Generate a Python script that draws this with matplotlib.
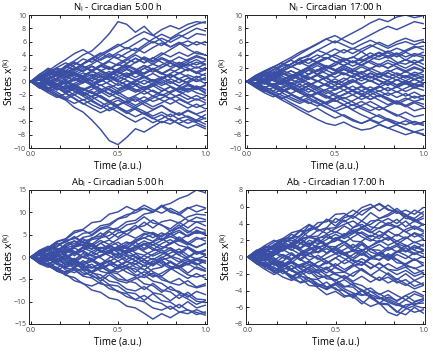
import numpy as np
import matplotlib
matplotlib.use("Agg")
import matplotlib.pyplot as plt

# time grid of the sampled trajectories
time = [0.0, 0.05, 0.1, 0.15, 0.2, 0.25, 0.3, 0.35, 0.4, 0.45, 0.5,
        0.55, 0.6, 0.65, 0.7, 0.75, 0.8, 0.85, 0.9, 0.95, 1.0]

# N_i - Circadian 5:00 h
n_05 = [
    [0, 0.8, 1.5, 1.2, 2.4, 3.1, 4.0, 4.6, 5.8, 7.2, 9.0, 8.6, 7.4, 8.3, 7.0, 6.1, 5.2, 5.8, 4.9, 4.2, 4.0],
    [0, -0.6, -1.4, -2.2, -2.8, -3.9, -4.6, -5.8, -7.2, -8.9, -9.5, -8.4, -7.1, -7.6, -6.8, -6.0, -6.4, -5.6, -5.2, -5.8, -5.0],
    [0, 0.5, 1.1, 2.0, 1.6, 2.5, 3.4, 2.9, 3.8, 4.6, 5.3, 6.0, 6.8, 7.5, 6.9, 7.8, 8.4, 7.9, 8.6, 9.0, 8.8],
    [0, 0.9, 0.4, 1.3, 2.2, 1.8, 2.7, 3.5, 4.3, 3.6, 4.4, 5.1, 4.6, 5.5, 6.4, 7.1, 6.5, 7.3, 8.0, 8.6, 9.0],
    [0, -0.4, 0.3, 0.9, 0.2, 1.0, 0.6, 1.5, 2.3, 1.8, 2.6, 2.0, 2.9, 3.7, 3.1, 4.0, 4.8, 5.6, 6.1, 5.5, 6.0],
    [0, 0.7, 1.6, 2.5, 3.3, 4.2, 4.8, 4.0, 3.2, 3.9, 3.4, 2.7, 3.5, 2.8, 3.6, 2.9, 2.2, 2.9, 2.3, 2.9, 2.5],
    [0, -0.8, -1.5, -0.9, -1.8, -2.6, -3.4, -2.8, -3.6, -4.4, -3.8, -4.6, -5.3, -4.7, -5.5, -6.2, -5.6, -6.4, -7.0, -6.5, -7.1],
    [0, 0.3, -0.5, -1.2, -0.6, -1.4, -2.1, -1.5, -2.3, -3.0, -2.4, -3.2, -2.6, -3.5, -4.2, -3.6, -4.5, -5.1, -4.4, -5.0, -5.6],
    [0, -0.5, 0.2, -0.4, 0.5, 1.2, 0.7, 1.5, 0.9, 0.3, 1.1, 1.8, 1.2, 2.0, 2.6, 2.1, 2.8, 2.3, 3.0, 2.5, 3.1],
    [0, 0.6, 0.1, -0.6, 0.0, -0.7, -1.3, -0.8, -1.6, -1.0, -0.3, -1.0, -1.6, -1.1, -0.4, 0.3, -0.3, 0.4, 1.0, 0.5, 1.2],
    [0, -0.9, -1.7, -2.4, -1.8, -1.1, -1.9, -2.7, -2.1, -2.9, -3.6, -3.0, -2.3, -3.1, -3.8, -3.2, -2.5, -3.3, -4.0, -3.4, -4.1],
    [0, 1.1, 1.8, 1.2, 2.0, 2.8, 2.2, 1.5, 2.3, 3.0, 2.4, 3.2, 4.0, 3.3, 2.6, 3.4, 2.8, 2.1, 2.7, 3.3, 2.6],
    [0, -0.3, 0.4, 1.0, 1.7, 1.1, 0.4, -0.3, 0.3, -0.4, -1.1, -0.5, -1.2, -1.9, -1.3, -2.0, -2.6, -2.0, -2.7, -2.1, -2.8],
    [0, 0.4, 1.0, 0.3, -0.4, 0.2, 0.9, 1.6, 2.4, 3.2, 4.1, 3.5, 4.3, 5.2, 6.0, 5.4, 6.3, 7.0, 6.4, 7.2, 7.0],
    [0, -0.6, -1.1, -1.9, -2.6, -3.3, -2.7, -3.5, -4.1, -3.4, -2.8, -3.5, -4.2, -4.9, -5.6, -5.0, -5.8, -6.3, -5.7, -6.2, -6.8],
    [0, 0.2, -0.4, 0.3, -0.3, 0.4, -0.2, 0.5, 0.0, 0.6, 0.1, -0.5, 0.2, -0.4, 0.3, -0.3, 0.4, -0.2, 0.5, 0.0, 0.4],
    [0, 0.8, 1.4, 2.1, 2.8, 2.2, 1.6, 2.3, 1.6, 0.9, 1.5, 0.8, 0.2, 0.8, 0.1, -0.6, 0.0, -0.7, -1.3, -0.7, -1.2],
    [0, -0.7, -0.2, -0.9, -1.5, -0.8, -0.2, 0.5, 1.2, 0.6, -0.1, 0.6, 1.3, 2.0, 1.4, 2.1, 2.8, 2.2, 1.6, 2.2, 1.7],
    [0, 0.5, -0.2, -0.9, -1.7, -2.5, -3.3, -4.0, -4.7, -4.1, -3.5, -2.9, -3.6, -2.9, -2.2, -2.8, -3.4, -2.7, -3.3, -3.9, -3.4],
    [0, -0.4, -1.0, -0.4, 0.2, -0.5, -1.1, -1.8, -1.2, -1.9, -1.3, -0.7, -1.4, -0.8, -1.5, -2.1, -1.5, -0.9, -1.6, -1.0, -1.6],
    [0, 1.0, 2.0, 1.4, 0.7, 1.3, 2.0, 2.6, 3.4, 4.2, 3.5, 4.3, 5.0, 4.3, 5.1, 5.8, 5.2, 5.9, 5.3, 6.0, 5.5],
    [0, -1.0, -0.4, 0.3, -0.4, -1.1, -1.8, -1.2, -0.5, -1.3, -2.0, -2.7, -2.1, -1.4, -2.2, -1.5, -0.8, -1.5, -2.2, -2.8, -2.3],
    [0, 0.3, 0.9, 1.5, 0.8, 0.1, 0.7, 0.0, -0.6, 0.0, 0.7, 1.3, 0.6, 1.3, 2.0, 1.3, 0.6, 1.2, 1.9, 1.2, 1.8],
    [0, -0.2, -0.9, -1.6, -2.4, -1.7, -1.0, -1.7, -2.4, -3.2, -4.0, -4.8, -4.1, -4.9, -4.3, -3.6, -4.4, -5.0, -4.3, -4.9, -4.4],
    [0, 0.6, 1.2, 1.9, 1.2, 1.9, 2.7, 3.5, 2.8, 2.1, 1.4, 2.0, 1.3, 0.6, 1.2, 0.5, 1.1, 0.4, -0.2, 0.4, -0.3],
    [0, -0.5, -1.2, -0.6, -1.3, -2.0, -1.4, -0.7, 0.0, 0.7, 0.1, -0.6, 0.0, 0.6, -0.1, 0.5, 1.2, 1.9, 2.6, 2.0, 2.6],
    [0, 0.9, 0.3, 1.0, 1.6, 1.0, 0.3, -0.4, -1.1, -1.8, -2.5, -3.2, -3.9, -4.5, -5.2, -4.6, -5.3, -4.7, -5.4, -6.0, -5.5],
    [0, -0.3, 0.3, -0.3, -1.0, -0.3, 0.4, 1.1, 0.5, 1.2, 1.9, 2.7, 3.5, 2.8, 3.5, 4.3, 3.7, 4.4, 3.8, 4.5, 4.0],
    [0, 0.2, -0.5, -1.3, -0.7, -1.5, -2.2, -3.0, -3.7, -3.1, -3.8, -4.5, -3.9, -3.2, -2.5, -1.9, -2.6, -2.0, -1.3, -0.7, -1.3],
    [0, -0.8, -0.2, 0.5, 1.3, 2.1, 1.5, 2.3, 1.7, 1.0, 1.8, 2.5, 1.9, 1.2, 1.9, 1.2, 0.6, 1.3, 0.7, 0.0, 0.6],
    [0, 0.4, 0.9, 0.3, 1.1, 1.8, 2.6, 3.3, 4.1, 4.8, 5.6, 4.9, 5.7, 6.5, 5.8, 6.5, 5.9, 6.6, 7.3, 8.0, 7.6],
    [0, -0.6, 0.0, -0.7, -0.1, -0.8, -1.6, -2.3, -3.1, -3.9, -4.6, -5.4, -6.1, -5.4, -6.2, -5.6, -4.9, -5.7, -6.3, -5.8, -6.4],
    [0, 0.6, 1.3, 0.8, 1.5, 0.9, 1.7, 2.3, 1.6, 2.2, 1.5, 0.9, 1.6, 2.4, 1.8, 1.1, 1.8, 1.2, 1.9, 1.3, 0.9],
    [0, -0.5, -1.1, -0.4, -1.2, -0.6, 0.1, -0.6, -1.3, -0.7, -1.5, -0.9, -0.2, -0.9, -0.3, -1.0, -1.7, -1.1, -0.4, -1.1, -0.5],
    [0, 0.3, 0.9, 1.6, 2.2, 2.9, 2.3, 1.6, 0.9, 1.5, 0.8, 0.2, -0.5, 0.2, -0.4, 0.3, 1.0, 0.3, -0.3, -0.9, -1.8],
    [0, -0.9, -1.4, -2.1, -2.7, -2.0, -2.8, -2.2, -1.5, -2.3, -1.6, -2.4, -3.0, -2.3, -3.0, -2.5, -1.8, -2.5, -3.2, -2.6, -3.2],
    [0, 0.5, -0.2, 0.5, 1.2, 0.6, 1.3, 0.8, 0.1, 0.8, 1.4, 0.7, 1.5, 0.8, 0.1, 0.7, 0.0, -0.7, 0.0, 0.8, 0.2],
    [0, -0.3, 0.5, 1.1, 0.6, 1.4, 0.8, 0.1, 0.8, 0.2, -0.6, 0.1, -0.5, -1.3, -0.6, -1.4, -0.8, -1.6, -1.0, -1.7, -2.1],
    [0, 0.8, 0.2, -0.4, -1.1, -0.5, -1.2, -0.6, 0.2, 0.9, 0.3, 1.0, 1.6, 1.1, 1.8, 2.5, 3.1, 2.6, 3.3, 3.9, 3.4],
    [0, -0.7, -0.1, -0.8, -0.2, 0.6, 0.0, 0.8, 1.5, 0.9, 1.6, 2.3, 1.7, 2.4, 1.8, 1.2, 1.9, 2.6, 2.0, 1.4, 2.1],
    [0, 0.4, -0.3, -1.0, -1.6, -1.0, -1.7, -2.3, -1.7, -1.1, -1.8, -1.2, -0.6, -1.3, -0.7, 0.0, -0.7, -1.3, -0.6, -1.2, -0.6],
    [0, -0.2, 0.6, 0.0, 0.8, 1.6, 2.3, 1.7, 2.5, 1.9, 2.7, 3.4, 2.8, 3.5, 2.9, 3.6, 3.0, 3.7, 3.1, 3.7, 3.3],
]

# N_i - Circadian 17:00 h
n_17 = [
    [0, 0.6, 1.3, 2.1, 2.9, 3.6, 4.4, 5.0, 5.7, 6.4, 5.8, 6.6, 7.3, 8.0, 8.8, 9.4, 9.0, 9.7, 10.0, 9.6, 9.9],
    [0, 0.4, 1.0, 1.7, 2.5, 3.3, 4.1, 4.9, 5.6, 6.4, 6.9, 6.2, 5.6, 6.3, 7.0, 7.7, 8.3, 7.8, 8.4, 9.0, 8.7],
    [0, -0.7, -1.4, -2.0, -2.8, -3.5, -4.3, -5.0, -5.7, -6.3, -6.6, -6.1, -6.8, -7.3, -7.1, -6.5, -7.0, -7.5, -8.0, -7.6, -8.0],
    [0, -0.5, -1.1, -1.8, -2.4, -3.2, -3.9, -4.6, -4.0, -4.8, -5.5, -5.0, -5.7, -6.3, -5.8, -6.4, -7.0, -6.5, -7.1, -7.6, -7.2],
    [0, 0.8, 0.3, 1.1, 1.9, 2.6, 3.3, 2.7, 3.5, 4.2, 4.9, 4.3, 5.0, 4.5, 5.2, 5.9, 5.3, 6.0, 6.5, 6.0, 6.3],
    [0, -0.3, -0.9, -0.4, -1.1, -1.8, -1.2, -2.0, -2.7, -3.4, -4.1, -3.5, -4.3, -5.0, -5.6, -5.0, -5.7, -6.4, -5.9, -6.5, -6.1],
    [0, 0.5, -0.1, 0.6, 1.2, 0.6, 1.3, 2.0, 2.7, 2.1, 2.8, 3.5, 2.9, 3.6, 4.3, 3.7, 4.4, 5.0, 4.5, 5.1, 5.3],
    [0, -0.6, 0.0, -0.7, -1.4, -0.8, -1.5, -2.2, -1.6, -2.3, -3.0, -2.4, -3.1, -3.8, -4.4, -3.8, -4.5, -5.2, -4.6, -5.3, -5.0],
    [0, 0.3, 0.9, 0.3, 1.0, 1.6, 1.0, 1.7, 2.4, 1.8, 2.5, 3.1, 3.7, 3.1, 3.8, 4.4, 3.8, 4.3, 3.7, 4.2, 3.9],
    [0, -0.4, 0.2, -0.5, 0.1, -0.6, 0.0, 0.7, 0.1, -0.6, 0.0, -0.7, -0.1, 0.6, 0.0, 0.7, 0.1, -0.5, 0.1, -0.4, 0.2],
    [0, 0.7, 1.4, 0.8, 1.5, 2.2, 2.9, 2.3, 3.0, 3.6, 3.0, 2.4, 3.1, 2.5, 1.9, 2.6, 2.0, 2.7, 3.3, 2.8, 3.2],
    [0, -0.8, -1.5, -0.9, -1.6, -1.0, -0.4, -1.1, -1.8, -1.2, -1.9, -2.6, -2.0, -2.7, -2.1, -2.8, -3.5, -2.9, -3.6, -3.0, -3.4],
    [0, 0.2, 0.8, 1.4, 0.8, 0.2, 0.9, 0.3, 1.0, 1.7, 1.1, 1.8, 1.2, 0.6, 1.3, 0.7, 1.4, 2.0, 1.4, 2.0, 1.6],
    [0, -0.2, -0.8, -1.4, -0.8, -0.2, -0.9, -1.6, -1.0, -0.4, -1.1, -0.5, 0.1, -0.6, -1.3, -0.7, -1.4, -0.8, -1.5, -0.9, -1.3],
    [0, 0.9, 1.6, 2.2, 1.6, 2.3, 1.7, 1.1, 1.8, 1.2, 0.6, 1.3, 0.7, 0.1, 0.8, 0.2, -0.4, 0.3, -0.3, 0.3, -0.2],
    [0, -0.9, -1.7, -2.3, -1.7, -2.4, -3.0, -2.4, -1.8, -2.5, -1.9, -1.3, -2.0, -1.4, -0.8, -1.5, -0.9, -1.6, -1.0, -0.4, -0.8],
    [0, 0.5, 1.1, 1.8, 2.5, 3.2, 2.6, 3.3, 4.0, 3.4, 4.1, 4.8, 4.2, 4.9, 5.5, 4.9, 4.3, 3.7, 4.4, 3.8, 4.4],
    [0, -0.5, -1.2, -1.9, -2.6, -2.0, -2.7, -3.3, -2.7, -3.4, -2.8, -3.5, -4.2, -3.6, -3.0, -3.7, -4.4, -5.0, -5.6, -6.2, -6.6],
    [0, 0.4, -0.2, -0.8, -0.2, 0.5, 1.2, 0.6, 0.0, 0.7, 1.4, 2.1, 1.5, 2.2, 1.6, 1.0, 1.7, 1.1, 0.5, 1.1, 0.6],
    [0, -0.4, 0.3, 1.0, 1.7, 1.1, 0.5, -0.2, -0.8, -1.5, -2.2, -2.9, -3.6, -3.0, -3.7, -4.3, -3.7, -3.1, -3.8, -3.2, -3.8],
    [0, 0.6, 0.0, -0.6, 0.1, 0.8, 1.5, 2.2, 2.9, 3.6, 3.0, 2.4, 1.8, 2.5, 3.2, 3.9, 4.6, 4.0, 4.7, 5.3, 4.8],
    [0, -0.6, -0.1, 0.5, -0.1, -0.7, -1.3, -0.7, -1.4, -2.1, -2.8, -3.5, -2.9, -2.2, -1.6, -2.3, -1.7, -2.4, -1.8, -2.5, -2.1],
    [0, 0.3, -0.3, 0.3, -0.4, -1.0, -1.7, -2.4, -3.1, -3.8, -4.5, -5.2, -5.9, -6.3, -5.7, -6.2, -5.6, -6.1, -6.5, -6.0, -6.4],
    [0, -0.2, 0.4, 1.0, 1.6, 2.2, 2.8, 3.4, 2.8, 3.4, 4.0, 3.4, 2.8, 3.4, 2.8, 2.2, 2.8, 2.2, 1.6, 2.2, 1.7],
    [0, 0.8, 1.5, 0.9, 0.3, -0.3, 0.4, 1.1, 1.7, 2.4, 1.8, 1.2, 0.6, 1.3, 2.0, 1.4, 0.8, 0.2, 0.9, 0.3, 0.8],
    [0, -0.7, -0.1, -0.7, -1.3, -1.9, -2.5, -3.1, -3.7, -3.1, -2.5, -1.9, -1.3, -0.7, -1.3, -1.9, -2.5, -3.1, -2.5, -3.0, -2.6],
    [0, 0.4, 1.1, 1.4, 2.3, 2.6, 3.5, 3.8, 4.7, 4.2, 3.6, 3.0, 2.3, 2.9, 3.6, 4.3, 3.5, 4.1, 3.2, 4.0, 3.6],
    [0, -0.3, -0.9, -1.5, -2.1, -2.7, -3.3, -2.7, -3.3, -3.9, -4.5, -4.0, -3.5, -4.1, -4.7, -5.3, -5.9, -6.5, -7.1, -7.6, -7.9],
    [0, 0.2, 0.8, 0.1, -0.5, 0.3, -0.3, 0.4, 0.9, 0.1, -0.6, 0.1, 0.9, 1.5, 0.7, 0.1, -0.6, 0.3, -0.4, 0.4, -0.3],
    [0, -0.5, 0.2, 0.6, 1.4, 0.8, 1.5, 2.0, 1.1, 2.1, 2.4, 3.3, 3.6, 4.5, 3.6, 3.3, 3.8, 2.9, 2.6, 3.2, 2.6],
    [0, 0.5, -0.2, -0.6, -1.4, -0.8, -1.5, -0.6, 0.0, 0.6, -0.2, -0.6, -1.5, -1.8, -2.7, -2.0, -2.6, -3.3, -3.6, -4.4, -4.0],
    [0, -0.2, 0.5, 1.2, 1.9, 2.6, 3.3, 4.0, 4.7, 5.4, 6.1, 5.5, 4.9, 5.6, 6.2, 5.6, 5.0, 5.6, 6.0, 5.5, 6.0],
    [0, 0.5, 1.1, 0.6, 1.3, 0.7, 1.4, 2.1, 1.5, 2.2, 1.6, 1.0, 1.7, 1.1, 0.5, 1.2, 0.6, 1.3, 0.7, 1.4, 1.0],
    [0, -0.4, -1.0, -0.3, -1.0, -0.5, -1.2, -0.6, 0.1, -0.6, -1.3, -0.7, -1.4, -0.8, -1.5, -0.9, -0.2, -0.9, -0.3, -1.0, -0.4],
    [0, 0.7, 0.2, -0.5, 0.2, 0.9, 0.3, 1.0, 1.7, 2.3, 1.7, 2.4, 3.0, 2.4, 3.1, 2.5, 3.2, 2.6, 2.0, 2.7, 2.1],
    [0, -0.8, -0.2, -0.9, -1.6, -1.0, -1.7, -1.1, -1.8, -1.2, -0.6, -1.3, -0.7, -1.4, -2.0, -1.4, -2.1, -1.5, -2.2, -1.6, -2.3],
    [0, 0.3, -0.4, 0.3, 1.0, 1.6, 1.0, 0.4, 1.1, 0.5, -0.2, 0.5, -0.1, 0.6, 1.2, 0.6, 1.3, 0.7, 0.1, 0.8, 0.3],
    [0, -0.3, 0.4, 1.1, 0.5, -0.2, -0.8, -0.2, -0.9, -0.3, 0.4, -0.3, 0.3, -0.4, 0.2, -0.5, 0.1, -0.6, 0.0, -0.7, -0.3],
    [0, 0.9, 1.5, 2.2, 2.8, 2.2, 2.9, 3.5, 2.9, 2.3, 1.7, 2.4, 1.8, 1.2, 1.9, 2.6, 2.0, 2.7, 3.3, 2.7, 3.4],
    [0, -0.5, -1.2, -1.8, -1.2, -1.9, -2.5, -1.9, -2.6, -3.2, -2.6, -2.0, -1.4, -2.1, -2.7, -2.1, -2.8, -3.4, -2.8, -2.2, -2.7],
    [0, 0.2, 0.9, 0.3, -0.3, 0.4, 1.1, 1.7, 1.1, 0.5, 1.2, 1.9, 1.3, 0.7, 0.1, -0.5, 0.2, 0.8, 1.5, 0.9, 1.5],
    [0, -0.6, 0.0, 0.7, 0.1, -0.6, 0.1, -0.5, -1.1, -1.8, -1.2, -0.6, -1.3, -1.9, -1.3, -0.7, -1.4, -0.8, -0.2, -0.9, -0.5],
]

# Ab_i - Circadian 5:00 h
ab_05 = [
    [0, 0.9, 2.0, 2.4, 3.7, 4.1, 5.3, 5.6, 7.0, 7.4, 8.6, 9.5, 9.9, 10.9, 10.2, 11.4, 12.0, 13.1, 13.8, 15.0, 14.4],
    [0, 1.4, 2.1, 3.5, 4.1, 5.8, 6.2, 7.7, 8.0, 9.6, 10.1, 11.3, 10.4, 11.6, 10.6, 9.8, 10.9, 9.9, 11.1, 10.1, 10.8],
    [0, -1.2, -1.7, -3.2, -3.8, -5.3, -5.9, -7.4, -7.9, -9.2, -9.6, -11.0, -11.4, -12.6, -13.9, -12.7, -13.6, -12.4, -11.8, -12.9, -12.3],
    [0, -0.7, -2.0, -2.6, -4.1, -4.6, -6.0, -6.5, -5.6, -7.1, -7.6, -8.9, -9.5, -8.6, -9.9, -10.4, -11.7, -10.6, -11.9, -12.4, -13.0],
    [0, 1.3, 0.4, 1.8, 2.2, 3.6, 2.5, 3.9, 4.3, 5.7, 4.4, 5.9, 6.3, 7.8, 6.5, 7.9, 8.3, 7.6, 9.0, 9.6, 9.4],
    [0, -1.4, -0.4, -1.7, -2.2, -1.2, -2.8, -3.3, -4.8, -3.4, -4.9, -5.3, -4.5, -6.0, -6.4, -7.9, -6.6, -8.1, -8.5, -9.9, -10.2],
    [0, 0.8, 1.9, 0.6, 2.0, 2.6, 4.1, 2.8, 4.3, 4.8, 6.2, 5.0, 6.5, 7.0, 8.3, 7.1, 6.3, 7.8, 6.5, 7.9, 7.0],
    [0, -0.5, 0.6, -0.7, -1.2, -0.3, -1.9, -2.4, -1.4, -2.9, -3.4, -2.5, -4.0, -4.6, -3.6, -5.1, -5.7, -4.8, -6.3, -6.9, -6.4],
    [0, 0.6, -0.6, 0.5, 1.6, 0.3, 1.5, 2.5, 1.1, 2.4, 3.3, 2.0, 3.4, 4.3, 5.1, 3.8, 5.1, 6.0, 4.6, 6.0, 5.2],
    [0, -0.7, 0.6, 1.7, 0.3, -0.6, 0.8, -0.5, -1.6, -0.2, 0.8, -0.6, 0.7, -0.6, -1.7, -0.2, 0.9, 1.8, 0.4, -0.5, 0.3],
    [0, 1.5, 2.4, 1.3, 2.9, 3.6, 2.5, 1.7, 3.1, 3.8, 2.6, 1.8, 3.3, 1.9, 3.4, 4.2, 2.9, 4.5, 3.1, 2.2, 3.0],
    [0, -1.5, -2.3, -1.2, -2.9, -3.5, -2.4, -1.6, -3.2, -3.7, -2.5, -1.9, -3.4, -1.8, -3.3, -4.3, -2.8, -2.0, -3.6, -2.2, -3.0],
    [0, 1.0, 1.5, 2.9, 3.3, 4.6, 3.3, 2.8, 1.4, 1.0, 2.0, 0.5, 0.1, -1.3, -1.7, -0.7, -2.2, -2.6, -4.0, -4.5, -4.0],
    [0, -1.0, -1.5, -2.9, -3.3, -2.4, -1.3, -1.0, 0.4, 0.8, 2.2, 2.5, 3.9, 4.3, 3.5, 4.9, 5.3, 6.7, 5.4, 6.7, 6.0],
    [0, 0.5, 1.6, 2.0, 1.0, 2.4, 2.9, 4.3, 4.7, 6.1, 6.5, 7.9, 8.2, 9.6, 10.0, 11.3, 10.0, 9.6, 8.2, 7.8, 8.0],
    [0, -0.6, -1.1, -2.5, -1.1, -2.6, -3.0, -4.4, -4.8, -6.2, -6.5, -7.9, -8.2, -9.7, -8.2, -9.8, -10.1, -11.4, -10.0, -11.4, -10.8],
    [0, 1.1, -0.3, -0.7, 0.3, 0.7, 2.1, 2.5, 1.5, 1.1, -0.3, 1.1, 1.5, 2.9, 3.3, 2.3, 1.9, 0.5, 2.0, 0.6, 1.4],
    [0, -1.1, 0.3, 0.7, -0.3, -0.7, -2.1, -2.5, -1.5, -1.1, 0.3, -1.1, -1.5, -2.9, -1.5, -1.1, -2.1, -2.5, -1.5, -0.7, -1.4],
    [0, 0.5, 1.8, 2.3, 3.7, 2.3, 3.6, 4.0, 5.4, 4.0, 5.4, 5.8, 7.1, 5.7, 5.3, 3.9, 5.2, 4.0, 3.2, 4.4, 3.6],
    [0, -0.5, -1.9, -2.3, -3.6, -2.3, -3.6, -4.0, -5.4, -4.0, -5.3, -5.8, -4.9, -4.1, -5.4, -5.9, -7.3, -7.7, -9.0, -7.7, -8.4],
    [0, 1.3, 1.8, 3.2, 1.8, 1.3, -0.1, -0.6, -2.0, -0.7, -2.1, -2.6, -1.6, -0.6, -2.0, -0.6, -0.1, 1.2, -0.2, 1.1, 0.4],
    [0, -1.3, -1.8, -3.1, -1.8, -1.3, 0.1, 0.6, 2.0, 2.5, 1.6, 3.0, 3.5, 5.0, 5.5, 4.5, 5.9, 6.5, 7.9, 8.9, 8.4],
    [0, 0.4, 1.4, 0.1, -0.4, -1.8, -2.2, -3.6, -4.0, -5.4, -5.8, -7.2, -7.6, -6.6, -8.0, -8.4, -9.8, -8.4, -9.4, -10.6, -9.8],
    [0, -0.4, 0.8, 1.2, 2.6, 3.0, 4.4, 4.8, 6.2, 6.6, 5.8, 7.2, 7.6, 9.0, 7.6, 7.2, 5.8, 7.2, 5.8, 5.3, 5.6],
    [0, 0.9, -0.4, 0.6, -0.6, 1.0, 1.4, 0.3, -0.2, -1.5, -1.9, -0.9, -2.3, -2.8, -4.1, -4.5, -5.8, -6.3, -5.3, -6.7, -6.0],
    [0, -0.9, 0.4, -0.6, 0.6, -1.0, -1.4, -0.3, 0.2, 1.5, 1.9, 0.9, 2.3, 2.8, 1.6, 3.0, 3.9, 2.6, 2.1, 0.9, 1.6],
    [0, 1.2, 2.0, 3.4, 3.9, 5.4, 6.0, 5.0, 6.5, 7.0, 8.5, 9.0, 10.5, 10.9, 10.0, 11.6, 10.4, 9.4, 10.9, 11.6, 11.0],
    [0, -1.2, -1.8, -0.8, 0.2, -1.3, -1.8, -3.3, -2.2, -3.3, -3.8, -5.3, -5.8, -7.3, -5.9, -7.4, -7.8, -9.3, -7.9, -9.4, -9.6],
    [0, 0.3, -0.9, 0.3, 0.8, 2.2, 2.7, 1.8, 3.1, 1.8, 1.3, 2.3, 0.9, 0.4, 1.4, 1.9, 3.2, 3.6, 2.7, 4.0, 4.3],
    [0, -0.3, 0.9, -0.3, -0.8, -2.2, -0.8, -2.3, -2.7, -1.8, -0.9, -2.3, -2.7, -4.1, -2.7, -2.3, -0.9, -2.3, -1.0, -0.3, -0.8],
    [0, 0.7, -0.6, -1.0, -2.5, -2.9, -4.3, -4.7, -6.0, -6.4, -7.8, -8.2, -9.6, -10.0, -11.4, -11.9, -11.0, -12.3, -12.7, -11.8, -12.6],
    [0, -0.7, 0.6, 1.0, 2.4, 0.9, 2.3, 2.7, 1.4, 0.9, 0.4, 1.5, 0.1, -0.5, 0.6, 1.6, 0.2, -0.4, -1.8, -0.4, -1.1],
    [0, 0.8, 1.7, 0.6, 1.8, 0.9, 2.2, 3.0, 1.8, 2.7, 1.6, 0.8, 1.9, 3.1, 2.0, 0.9, 2.1, 1.0, 2.3, 1.2, 0.7],
    [0, -0.8, -1.6, -0.5, -1.8, -0.8, 0.2, -0.9, -2.0, -0.9, -2.2, -1.1, -0.1, -1.3, -0.3, -1.5, -2.6, -1.4, -0.5, -1.7, -0.8],
    [0, 0.4, 1.5, 2.4, 3.5, 4.3, 3.3, 2.3, 1.2, 2.2, 1.0, 0.2, -0.9, 0.3, -0.6, 0.5, 1.6, 0.4, -0.5, -1.4, -2.6],
    [0, -1.2, -2.0, -3.1, -3.9, -2.8, -4.1, -3.2, -2.0, -3.3, -2.2, -3.4, -4.3, -3.3, -4.5, -3.6, -2.5, -3.7, -4.8, -3.7, -4.7],
    [0, 0.7, -0.3, 0.7, 1.8, 0.8, 2.0, 1.2, 0.1, 1.2, 2.2, 1.1, 2.3, 1.2, 0.2, 1.1, 0.0, -1.1, 0.0, 1.2, 0.4],
    [0, -0.4, 0.8, 1.6, 0.8, 2.0, 1.1, 0.2, 1.2, 0.3, -0.9, 0.2, -0.8, -2.0, -0.9, -2.1, -1.2, -2.4, -1.5, -2.6, -3.2],
    [0, 1.1, 0.3, -0.6, -1.6, -0.7, -1.8, -0.9, 0.3, 1.3, 0.4, 1.5, 2.4, 1.6, 2.7, 3.7, 4.6, 3.8, 4.9, 5.8, 5.1],
    [0, -1.0, -0.1, -1.2, -0.3, 0.9, 0.0, 1.2, 2.2, 1.3, 2.4, 3.4, 2.5, 3.6, 2.7, 1.8, 2.9, 3.9, 3.0, 2.1, 3.1],
    [0, 0.6, -0.4, -1.5, -2.4, -1.5, -2.6, -3.5, -2.5, -1.6, -2.7, -1.8, -0.9, -2.0, -1.1, 0.0, -1.1, -2.0, -0.9, -1.8, -0.9],
    [0, -0.3, 0.9, 0.0, 1.2, 2.4, 3.4, 2.5, 3.7, 2.8, 4.0, 5.1, 4.2, 5.3, 4.3, 5.4, 4.5, 5.6, 4.6, 5.6, 5.0],
]

# Ab_i - Circadian 17:00 h
ab_17 = [
    [0, 0.5, 1.3, 1.0, 1.9, 2.7, 2.2, 3.1, 3.6, 4.5, 4.1, 4.9, 5.6, 5.0, 5.8, 6.4, 5.7, 5.2, 5.6, 5.1, 5.9],
    [0, 0.8, 0.4, 1.5, 2.1, 1.7, 2.6, 3.8, 3.1, 3.5, 4.6, 4.2, 4.9, 4.3, 5.3, 4.6, 5.1, 5.8, 5.0, 4.6, 5.4],
    [0, -0.3, -1.1, -0.8, -1.7, -2.2, -3.1, -2.8, -3.7, -4.5, -4.1, -4.8, -4.4, -5.3, -5.9, -5.5, -6.6, -7.0, -6.2, -5.8, -6.1],
    [0, -0.7, -1.0, -1.9, -1.5, -2.6, -3.0, -2.5, -3.4, -3.9, -3.3, -4.1, -4.6, -4.0, -4.9, -5.5, -4.8, -5.2, -4.6, -5.3, -5.0],
    [0, 0.2, 0.9, 0.5, 1.2, 1.6, 1.1, 2.0, 1.6, 2.5, 3.0, 2.6, 3.5, 3.9, 3.2, 4.1, 4.6, 4.0, 4.9, 4.2, 4.6],
    [0, -0.5, -0.2, -1.0, -0.6, -1.5, -2.1, -1.7, -2.6, -2.2, -3.0, -3.6, -3.2, -4.1, -3.7, -4.5, -4.0, -4.6, -5.1, -4.4, -4.8],
    [0, 0.6, 0.1, 0.7, 1.3, 0.8, 1.6, 1.2, 2.1, 1.5, 2.3, 1.8, 1.1, 1.9, 2.6, 2.2, 3.1, 2.5, 3.3, 3.7, 3.2],
    [0, -0.4, 0.3, -0.3, -1.1, -0.6, -1.4, -0.9, -1.7, -1.2, -2.0, -2.6, -1.9, -1.4, -2.2, -2.8, -2.4, -3.1, -2.7, -3.5, -3.1],
    [0, 0.5, 1.2, 0.8, 1.6, 1.1, 2.0, 2.5, 1.9, 1.3, 0.8, 1.5, 0.7, 0.2, 1.0, 0.3, -0.4, 0.3, -0.2, 0.5, 0.0],
    [0, -0.6, -1.2, -0.7, -1.5, -1.0, -1.8, -1.2, -0.6, -0.1, 0.4, 0.9, 1.5, 0.8, 1.3, 2.0, 1.4, 1.9, 2.4, 1.7, 2.1],
    [0, 0.3, -0.4, 0.2, 0.9, 0.3, -0.2, 0.5, -0.3, 0.4, 1.0, 0.3, -0.5, -1.0, -0.2, 0.5, -0.1, 0.6, 1.1, 0.4, 0.7],
    [0, -0.2, 0.5, -0.1, -0.9, -0.3, 0.4, -0.4, 0.2, -0.5, -1.1, -0.4, 0.3, 0.9, 0.2, -0.4, 0.4, -0.3, -0.9, -1.4, -1.0],
    [0, 0.7, 1.1, 1.8, 2.2, 2.9, 3.2, 3.9, 3.3, 2.8, 3.4, 3.9, 4.3, 3.6, 3.0, 2.5, 3.2, 3.7, 3.0, 2.4, 2.8],
    [0, -0.5, -1.3, -1.7, -2.4, -2.8, -2.2, -2.9, -3.4, -3.8, -3.2, -2.7, -3.4, -3.9, -4.5, -4.9, -5.4, -5.8, -5.1, -5.7, -5.2],
    [0, 0.4, 0.7, 1.5, 1.9, 1.2, 0.9, 0.4, 1.0, 1.6, 1.9, 2.6, 2.9, 3.6, 3.9, 4.6, 4.9, 5.5, 4.8, 5.6, 5.1],
    [0, -0.2, -1.0, -1.2, -2.0, -1.4, -0.9, -0.5, -1.1, -1.5, -2.1, -2.4, -3.1, -3.4, -4.1, -4.4, -5.0, -5.5, -6.0, -5.4, -5.0],
    [0, 0.6, 0.9, 0.4, 1.2, 1.4, 2.2, 2.4, 3.2, 3.4, 2.9, 3.7, 3.1, 2.8, 2.1, 1.8, 2.3, 1.6, 1.2, 1.8, 1.3],
    [0, -0.4, -1.1, -0.7, -1.3, -1.6, -2.3, -2.5, -3.2, -3.6, -3.1, -3.8, -4.3, -4.6, -4.1, -4.8, -5.2, -5.7, -6.1, -6.6, -6.3],
    [0, 0.8, 1.2, 1.0, 1.6, 2.3, 2.5, 3.4, 3.6, 4.5, 3.7, 4.7, 5.0, 5.9, 6.3, 5.5, 6.2, 5.4, 5.1, 4.3, 4.9],
    [0, -0.8, -1.1, -0.6, -0.5, 0.3, -0.4, 0.4, 0.6, 1.3, 0.5, 0.4, -0.4, -0.6, -1.4, -0.7, -1.5, -1.6, -1.2, -2.0, -1.6],
    [0, 0.3, 0.0, -0.8, -0.9, -1.7, -1.9, -1.4, -2.3, -2.4, -1.9, -1.8, -1.0, -0.9, 0.0, 0.2, -0.3, 0.6, 0.8, 0.3, 0.8],
    [0, -0.3, 0.3, 0.5, 1.3, 1.4, 2.2, 1.4, 2.3, 2.4, 2.0, 2.8, 1.9, 1.8, 0.9, 0.8, -0.1, -0.3, -1.1, -1.3, -1.9],
    [0, 0.1, 0.9, 1.0, 1.9, 2.0, 1.6, 2.4, 2.5, 3.4, 3.5, 4.4, 3.5, 4.3, 3.6, 3.4, 3.9, 4.5, 3.6, 4.3, 3.8],
    [0, -0.3, -0.5, -1.4, -1.5, -2.4, -2.5, -3.4, -3.5, -3.0, -3.9, -4.0, -4.9, -4.0, -4.8, -5.0, -4.5, -5.3, -4.6, -4.1, -4.6],
    [0, 0.7, 0.0, 0.5, -0.1, -0.3, 0.3, 0.8, 1.3, 0.4, 1.2, 0.5, -0.1, 0.7, 1.3, 1.8, 2.4, 1.5, 2.2, 2.8, 2.2],
    [0, -0.7, 0.0, -0.8, 0.0, 0.5, -0.3, -0.9, -1.2, -0.5, -1.3, -1.8, -2.3, -1.4, -2.2, -2.8, -1.9, -2.7, -2.0, -2.8, -2.3],
    [0, 0.4, -0.3, 0.2, 0.9, 1.4, 0.7, 0.1, -0.1, -0.8, -0.1, 0.5, 0.7, 1.5, 0.6, 0.2, 1.0, 1.5, 0.7, 1.4, 0.9],
    [0, -0.2, 0.4, -0.5, -0.7, -1.5, -0.9, -1.6, -1.9, -2.6, -2.7, -3.5, -3.6, -4.5, -4.6, -5.5, -5.6, -6.5, -6.9, -6.0, -6.7],
    [0, 0.4, 1.2, 1.3, 2.2, 2.3, 3.2, 2.3, 2.2, 1.3, 1.2, 1.8, 0.9, 0.7, -0.2, -0.3, 0.2, -0.7, -0.8, -0.2, -1.0],
    [0, -0.6, -0.8, -1.7, -0.9, -0.7, 0.2, 0.4, 1.2, 1.4, 2.3, 2.4, 3.2, 3.4, 4.3, 4.4, 3.8, 3.6, 4.3, 3.3, 3.9],
    [0, 0.3, 1.1, 1.2, 2.1, 2.2, 3.1, 3.2, 4.1, 4.2, 5.1, 5.2, 4.6, 5.5, 5.9, 6.3, 5.6, 5.5, 4.6, 4.5, 3.9],
    [0, -0.5, -0.7, -1.6, -1.7, -2.6, -1.7, -2.6, -2.7, -3.6, -3.7, -4.6, -4.7, -5.6, -4.7, -5.6, -5.7, -6.6, -5.7, -5.6, -5.5],
    [0, 0.5, 0.9, 0.3, 0.8, 1.5, 1.0, 1.7, 1.1, 0.5, 1.2, 1.8, 1.1, 1.6, 1.0, 1.5, 0.8, 1.3, 0.6, 1.2, 0.8],
    [0, -0.3, -0.9, -0.4, -1.0, -0.5, -1.2, -0.6, -1.3, -1.9, -1.2, -1.8, -1.1, -0.6, -1.3, -0.8, -1.5, -2.1, -1.6, -2.3, -1.9],
    [0, 0.2, -0.4, 0.4, 1.0, 1.7, 2.1, 1.5, 2.2, 2.7, 2.0, 2.6, 3.1, 2.4, 1.9, 2.6, 2.0, 2.7, 2.2, 2.9, 2.5],
    [0, -0.6, -0.1, 0.6, 0.2, -0.5, -1.1, -0.5, -1.2, -0.7, -0.1, -0.8, -0.3, 0.4, -0.2, 0.5, 0.0, 0.7, 0.2, -0.4, 0.1],
    [0, 0.7, 1.4, 2.0, 1.5, 2.3, 1.7, 1.2, 0.6, 1.3, 0.8, 0.2, 0.9, 0.4, -0.2, 0.5, 1.2, 0.6, 1.4, 0.9, 1.5],
    [0, -0.8, -1.5, -2.1, -1.6, -2.3, -1.8, -1.2, -1.9, -1.4, -0.8, -1.5, -0.9, -1.6, -2.2, -1.5, -2.1, -2.9, -3.4, -2.8, -3.3],
    [0, 0.4, 0.1, -0.5, -1.2, -0.7, -1.4, -2.0, -1.5, -2.2, -2.8, -2.2, -2.9, -2.3, -3.0, -2.4, -3.1, -2.6, -3.2, -3.8, -3.4],
    [0, -0.1, 0.6, 1.2, 0.7, 1.4, 2.0, 1.4, 2.1, 1.5, 2.2, 1.7, 2.4, 3.0, 2.4, 3.1, 2.5, 1.9, 1.4, 0.8, 0.4],
    [0, 0.6, 0.2, -0.4, 0.3, -0.2, 0.5, 1.1, 0.5, 1.0, 0.4, -0.2, -0.8, -0.2, -0.8, -1.4, -0.8, -1.4, -0.9, -0.3, -0.7],
    [0, -0.4, 0.3, 0.8, 1.4, 0.9, 0.3, 0.9, 1.5, 2.1, 2.7, 2.2, 2.8, 3.4, 2.9, 3.5, 4.1, 3.6, 3.0, 3.5, 3.0],
]

titles = ["N$_{i}$ - Circadian 5:00 h", "N$_{i}$ - Circadian 17:00 h",
          "Ab$_{i}$ - Circadian 5:00 h", "Ab$_{i}$ - Circadian 17:00 h"]
y_ranges = [(-10, 10, 2), (-10, 10, 2), (-15, 15, 5), (-8, 8, 2)]
x_ticks = [0, 1/6, 2/6, 3/6, 4/6, 5/6, 1]
x_ticklabels = ["0.0", "", "", "0.5", "", "", "1.0"]

plt.rcParams['font.family'] = ['Open Sans', 'DejaVu Sans']
plt.rcParams['mathtext.default'] = 'regular'

W, H = 433, 352
fig = plt.figure(figsize=(W / 100, H / 100), dpi=100)

# axes boxes in pixels: left, top, right, bottom
boxes = [(29, 15, 207, 148), (245, 15, 425, 148),
         (29, 190, 207, 324), (246, 190, 425, 324)]

line_color = "#3a4ea3"
datasets = [n_05, n_17, ab_05, ab_17]

for data, box, title, (ylo, yhi, ystep) in zip(datasets, boxes, titles, y_ranges):
    l, t, r, b = box
    ax = fig.add_axes([l / W, 1 - b / H, (r - l) / W, (b - t) / H])
    for path in data:
        ax.plot(time, path, color=line_color, lw=1.05)
    ax.set_xlim(-0.01, 1.01)
    ax.set_ylim(ylo, yhi)
    ax.set_yticks(np.arange(ylo, yhi + 0.1, ystep))
    ax.set_xticks(x_ticks)
    ax.set_xticklabels(x_ticklabels)
    ax.tick_params(direction='in', length=2.5, width=0.6, labelsize=5,
                   labelcolor='#444444', top=True, right=True, pad=2)
    for sp in ax.spines.values():
        sp.set_linewidth(0.7)
        sp.set_color('#222222')
    ax.set_title(title, fontsize=6.8, pad=3)
    ax.set_xlabel("Time (a.u.)", fontsize=7, labelpad=2)
    ax.set_ylabel("States x$^{(k)}$", fontsize=7.6)
    ax.yaxis.set_label_coords(-13 / (r - l), 0.5)

fig.savefig("out.png", dpi=100)
